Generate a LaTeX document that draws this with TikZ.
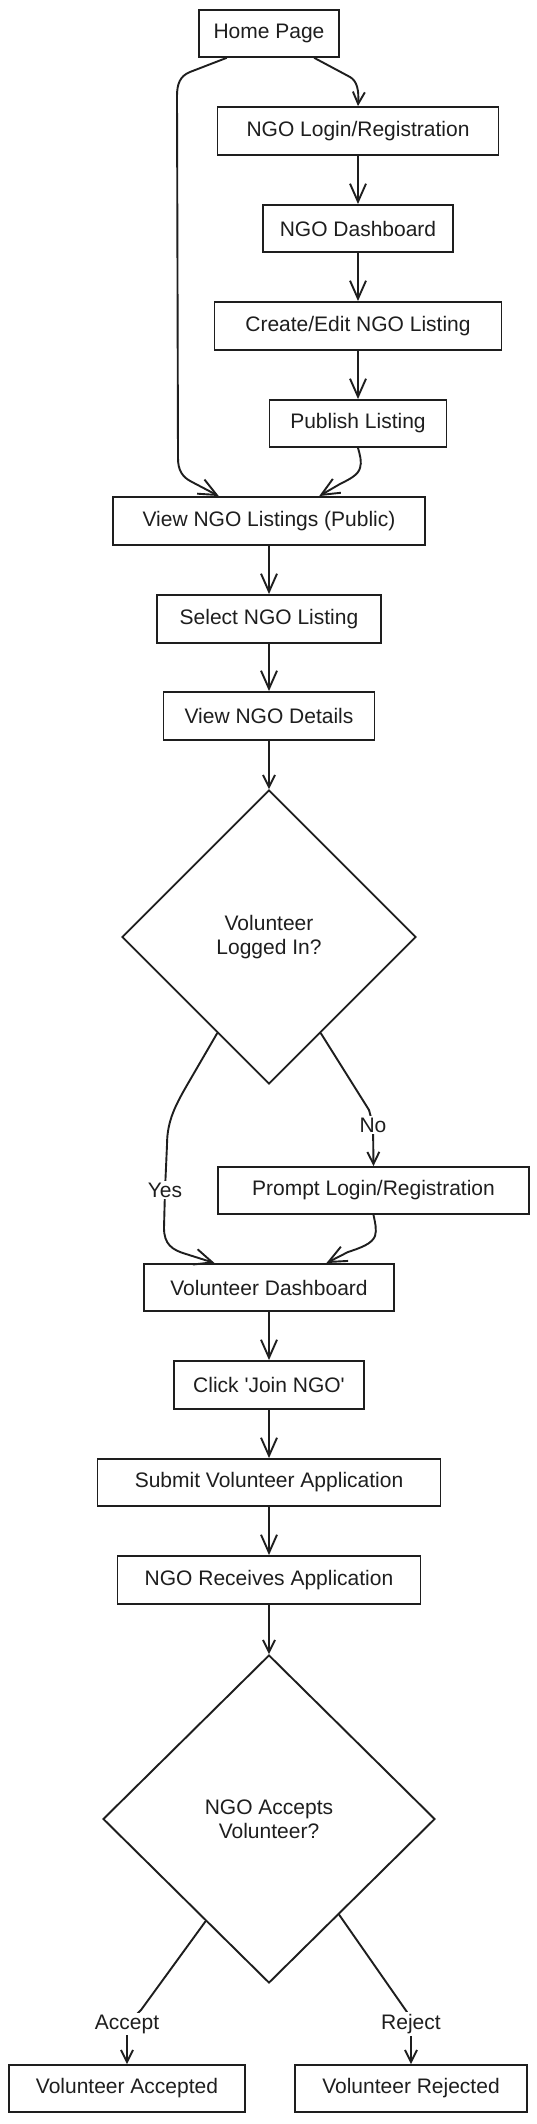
\documentclass[tikz,border=0pt]{standalone}
\usepackage{fontspec}
\setmainfont{Liberation Sans}
\usetikzlibrary{arrows.meta,shapes.geometric,calc}
\definecolor{ink}{HTML}{1E1E1E}
\begin{document}
\begin{tikzpicture}[x=1pt,y=-1pt,
  txt/.style={text=ink, font=\fontsize{21}{24}\selectfont},
  box/.style={txt, draw=ink, line width=1.9pt, rectangle, inner sep=0pt, align=center},
  dec/.style={txt, draw=ink, line width=1.9pt, diamond, inner sep=0pt, align=center},
  arr/.style={draw=ink, line width=1.9pt, line cap=round, line join=round, -{Straight Barb[length=18pt,width=16pt]}},
  arrs/.style={draw=ink, line width=1.9pt, line cap=round, line join=round, -{Straight Barb[length=12pt,width=12pt]}},
  lbl/.style={txt, fill=white, inner sep=2pt}]
\useasboundingbox[fill=white] (0,0) rectangle (536,2124);

% nodes
\node[box, minimum width=140pt, minimum height=47pt] (home) at (269,33.5) {Home Page};
\node[box, minimum width=281pt, minimum height=48pt] (ngologin) at (358,131) {NGO Login/Registration};
\node[box, minimum width=190pt, minimum height=47pt] (ngodash) at (358,228.5) {NGO Dashboard};
\node[box, minimum width=287pt, minimum height=48pt] (create) at (358,326) {Create/Edit NGO Listing};
\node[box, minimum width=177pt, minimum height=47pt] (publish) at (358,423.5) {Publish Listing};
\node[box, minimum width=312pt, minimum height=48pt] (viewlist) at (269,521) {View NGO Listings (Public)};
\node[box, minimum width=224pt, minimum height=48pt] (select) at (269,619) {Select NGO Listing};
\node[box, minimum width=211pt, minimum height=48pt] (details) at (269,716) {View NGO Details};
\node[dec, minimum width=294pt, minimum height=294pt] (dec1) at (269,937) {Volunteer\\Logged In?};
\node[box, minimum width=311pt, minimum height=47pt] (prompt) at (373.5,1190.5) {Prompt Login/Registration};
\node[box, minimum width=250pt, minimum height=47pt] (voldash) at (269,1287.5) {Volunteer Dashboard};
\node[box, minimum width=190pt, minimum height=48pt] (click) at (269,1385) {Click \textquotesingle Join NGO\textquotesingle};
\node[box, minimum width=343pt, minimum height=47pt] (submit) at (269,1482.5) {Submit Volunteer Application};
\node[box, minimum width=303pt, minimum height=48pt] (receives) at (269,1580) {NGO Receives Application};
\node[dec, minimum width=332pt, minimum height=328pt] (dec2) at (269,1819) {NGO Accepts\\Volunteer?};
\node[box, minimum width=236pt, minimum height=47pt] (accepted) at (127,2088.5) {Volunteer Accepted};
\node[box, minimum width=232pt, minimum height=47pt] (rejected) at (411,2088.5) {Volunteer Rejected};

% connectors
\draw[arrs] ($(home.south west)!0.82!(home.south east)$) -- (350,77)
  .. controls (357,81) and (359,90) .. (ngologin.north);
\draw[arr] ($(home.south west)!0.2!(home.south east)$) -- (190,72)
  .. controls (180,76) and (177,84) .. (177,96) -- (178,458)
  .. controls (178,470) and (182,477) .. (192,482)
  -- ($(viewlist.north west)!0.34!(viewlist.north east)$);
\draw[arr] (ngologin.south) -- (ngodash.north);
\draw[arr] (ngodash.south) -- (create.north);
\draw[arr] (create.south) -- (publish.north);
\draw[arr] (publish.south) .. controls (360,455) and (362,462) .. (360,468)
  .. controls (358,475) and (350,479) .. (340,484)
  -- ($(viewlist.north west)!0.66!(viewlist.north east)$);
\draw[arr] (viewlist.south) -- (select.north);
\draw[arr] (select.south) -- (details.north);
\draw[arrs] (details.south) -- (dec1.north);
\draw[arr] ($(dec1.west)!0.65!(dec1.south)$) -- (190,1080)
  .. controls (176,1104) and (167,1120) .. (167,1145)
  -- (165,1190) node[lbl] {Yes}
  -- (164,1228) .. controls (164,1244) and (172,1250) .. (186,1254)
  -- ($(voldash.north west)!0.284!(voldash.north east)$);
\draw[arrs] ($(dec1.east)!0.65!(dec1.south)$) -- (369,1110)
  -- (373,1125) node[lbl] {No} -- (prompt.north);
\draw[arr] (prompt.south) .. controls (375,1222) and (377,1230) .. (375,1236)
  .. controls (372,1244) and (360,1248) .. (348,1252)
  -- ($(voldash.north west)!0.728!(voldash.north east)$);
\draw[arr] (voldash.south) -- (click.north);
\draw[arr] (click.south) -- (submit.north);
\draw[arr] (submit.south) -- (receives.north);
\draw[arrs] (receives.south) -- (dec2.north);
\draw[arrs] ($(dec2.west)!0.62!(dec2.south)$) -- (141,2010)
  -- (127,2024) node[lbl] {Accept} -- (accepted.north);
\draw[arrs] ($(dec2.east)!0.58!(dec2.south)$) -- (407,2012)
  -- (411,2024) node[lbl] {Reject} -- (rejected.north);
\end{tikzpicture}
\end{document}
